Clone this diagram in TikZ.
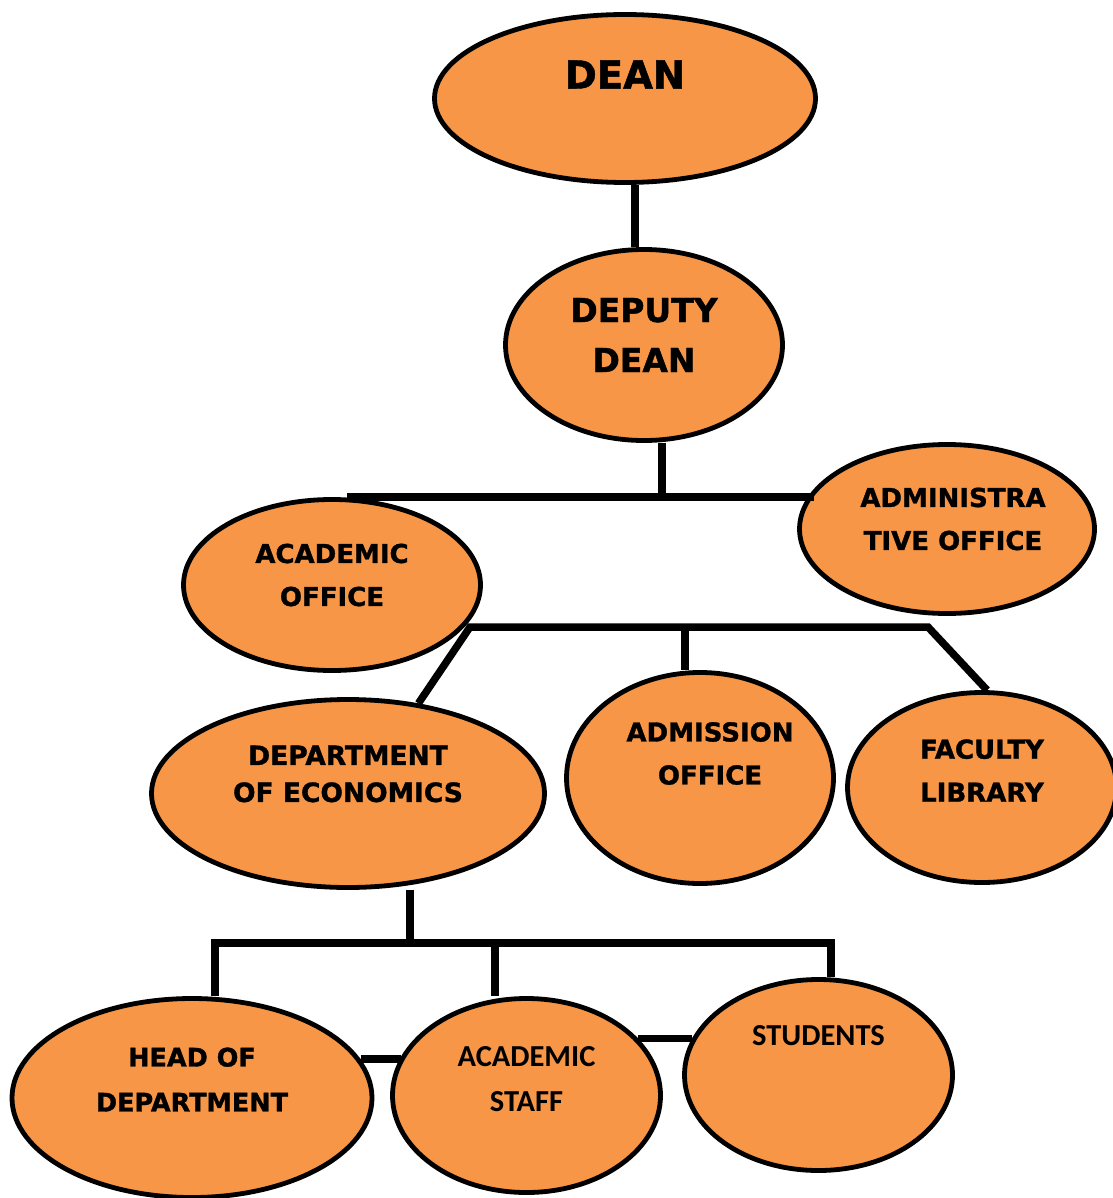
\documentclass[tikz,border=0pt]{standalone}
\usepackage{fontspec}
\setmainfont{DejaVu Sans}[BoldFeatures={FakeBold=1.2}]
\newfontfamily\staffont{Carlito}
\usepackage{tikz}
\usetikzlibrary{shapes.geometric}
\definecolor{chartorange}{HTML}{F79646}

\begin{document}
\begin{tikzpicture}[x=1pt,y=-1pt,
  oval/.style={ellipse,draw=black,line width=4.8pt,fill=chartorange,inner sep=0pt},
  wire/.style={line width=7.5pt},
  txt/.style={font=\bfseries\fontsize{26}{43}\selectfont,align=center,inner sep=0pt},
  cal/.style={font=\staffont\bfseries\fontsize{30.5}{45}\selectfont,align=center,inner sep=0pt}]
\useasboundingbox[fill=white] (0,0) rectangle (1112,1198);

% ellipses
\node[oval,minimum width=381pt,minimum height=168pt,
  label={[txt,font=\bfseries\fontsize{38.5}{46}\selectfont,yshift=24pt]center:DEAN}] (dean) at (625,98.5) {};
\node[oval,minimum width=277pt,minimum height=191pt,
  label={[txt,font=\bfseries\fontsize{33}{50}\selectfont,yshift=10pt]center:{DEPUTY\\DEAN}}] (deputy) at (644,345) {};
\node[oval,minimum width=295pt,minimum height=169pt,
  label={[txt,yshift=10pt,xshift=6pt]center:{ADMINISTRA\\TIVE OFFICE}}] (admin) at (947,529) {};
\node[oval,minimum width=297pt,minimum height=171pt,
  label={[txt,yshift=10pt]center:{ACADEMIC\\OFFICE}}] (acad) at (332,585) {};
\node[oval,minimum width=393pt,minimum height=188pt,
  label={[txt,font=\bfseries\fontsize{26.5}{37}\selectfont,yshift=19.5pt]center:{DEPARTMENT\\OF ECONOMICS}}] (dept) at (348,793.5) {};
\node[oval,minimum width=267pt,minimum height=211pt,
  label={[txt,yshift=24.5pt,xshift=10pt]center:{ADMISSION\\OFFICE}}] (admission) at (700,778) {};
\node[oval,minimum width=269pt,minimum height=190pt,
  label={[txt,yshift=17pt]center:{FACULTY\\LIBRARY}}] (library) at (982,787.5) {};
\node[oval,minimum width=360pt,minimum height=199pt,
  label={[txt,font=\bfseries\fontsize{25.5}{45}\selectfont,yshift=18.5pt]center:{HEAD OF\\DEPARTMENT}}] (head) at (192,1098) {};
\node[oval,minimum width=268pt,minimum height=194pt,
  label={[cal,yshift=16.5pt]center:{ACADEMIC\\STAFF}}] (staff) at (526.5,1095.5) {};
\node[oval,minimum width=268pt,minimum height=191pt,
  label={[cal,yshift=39pt]center:STUDENTS}] (students) at (818.5,1075) {};

% junctions
\coordinate (deanstem) at (635,0);
\coordinate (barA-l) at (347,497);
\coordinate (barA-m) at (662,497);
\coordinate (barB-l) at (470,627);
\coordinate (barB-m) at (685,627);
\coordinate (barB-r) at (928,627);
\coordinate (barC-l) at (215,943);
\coordinate (barC-m) at (410,943);
\coordinate (barC-c) at (495,943);
\coordinate (barC-r) at (831,943);

% connectors
\draw[wire] (dean.south -| deanstem) -- (deputy.north -| deanstem);
\draw[wire] (deputy.south -| barA-m) -- (barA-m);
\draw[wire] (barA-l) -- (barA-l -| admin.163);
\draw[wire] (dept.52) -- (barB-l) -- (barB-r) -- (library.87);
\draw[wire] (barB-m) -- (admission.north -| barB-m);
\draw[wire] (dept.south -| barC-m) -- (barC-m);
\draw[wire] (head.north -| barC-l) -- (barC-l) -- (barC-r) -- (students.north -| barC-r);
\draw[wire] (barC-c) -- (staff.north -| barC-c);
\draw[wire] (head.13) -- (head.13 -| staff.163);
\draw[wire] (staff.27) -- (staff.27 -| students.164);
\end{tikzpicture}
\end{document}
